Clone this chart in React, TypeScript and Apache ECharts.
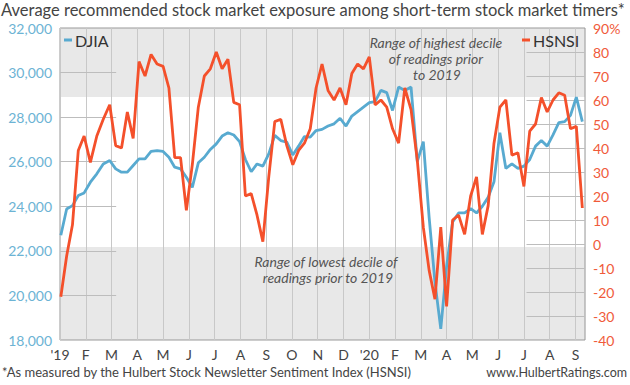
import React, { useEffect, useRef } from 'react';
import * as echarts from 'echarts';

// ---------- data ----------
const START_DATE = '2019-01-02'; // first weekly reading
const MONTH_LABELS = ["'19", 'F', 'M', 'A', 'M', 'J', 'J', 'A', 'S', 'O', 'N', 'D', "'20", 'F', 'M', 'A', 'M', 'J', 'J', 'A', 'S'];

const DJIA = [
  22700, 23880, 24030, 24480, 24600, 25080, 25455, 25900, 26055, 25680,
  25530, 25530, 25830, 26130, 26130, 26460, 26500, 26460, 26200, 25755,
  25680, 25300, 24850, 25950, 26200, 26550, 26800, 27150, 27300, 27200,
  26900, 26100, 25550, 25900, 25800, 26350, 27180, 26950, 26880, 26300,
  26700, 27130, 27100, 27400, 27450, 27600, 27700, 27950, 27600, 28050,
  28250, 28450, 28650, 28700, 29200, 29100, 28300, 29350, 29200, 29350,
  26000, 26900, 23500, 20600, 18500, 21300, 23300, 23700, 23700, 23900,
  23700, 24000, 24400, 25100, 27300, 25700, 25900, 25700, 25800, 26100,
  26700, 26950, 26700, 27200, 27750, 27800, 28080, 28900, 27800,
];

const HSNSI = [
  -22, -5, 8, 39, 45, 34, 45, 52, 58, 41,
  40, 55, 44, 76, 70, 79, 75, 74, 65, 36,
  36, 14, 33, 57, 70, 73, 80, 73, 77, 59,
  58, 20, 21, 12, 1, 28, 51, 52, 41, 33,
  39, 42, 48, 65, 75, 64, 60, 65, 58, 71,
  75, 73, 78, 58, 60, 57, 48, 42, 65, 56,
  35, 7, -11, -23, 7, -26, 10, 12, 4, 20,
  28, 4, 16, 42, 57, 60, 37, 38, 24, 47,
  50, 61, 55, 60, 63, 62, 48, 49, 15,
];

const LEFT_TICKS = [20000, 22000, 24000, 26000, 28000, 30000];
const RIGHT_TICKS = [-30, -20, -10, 0, 10, 20, 30, 40, 50, 60, 70, 80];
const HIGH_DECILE = [61.3, 90];
const LOW_DECILE = [-40, -1.3];

const TITLE = 'Average recommended stock market exposure among short-term stock market timers*';
const FOOTNOTE = '*As measured by the Hulbert Stock Newsletter Sentiment Index (HSNSI)';
const SOURCE = 'www.HulbertRatings.com';

// ---------- helpers ----------
function monthPos(d: Date): number {
  const y = d.getUTCFullYear();
  const m = d.getUTCMonth();
  const day = d.getUTCDate();
  const dim = new Date(Date.UTC(y, m + 1, 0)).getUTCDate();
  return (y - 2019) * 12 + m + (day - 1) / dim;
}

const start = new Date(START_DATE + 'T00:00:00Z').getTime();
const WEEK_X = DJIA.map((_, i) => monthPos(new Date(start + i * 7 * 86400000)));

const FONT = 'Lato';

export default function App() {
  const ref = useRef<HTMLDivElement>(null);
  useEffect(() => {
    if (!ref.current) return;
    const chart = echarts.init(ref.current, undefined, { renderer: 'svg' });
    const X_MAX = 20.37;
    const option: any = {
      animation: false,
      backgroundColor: '#fff',
      textStyle: { fontFamily: FONT },
      title: {
        text: TITLE,
        left: 1,
        top: 1,
        padding: 0,
        textStyle: { fontFamily: FONT, fontSize: 16.5, fontWeight: 'normal', color: '#444' },
      },
      grid: {
        left: 60, right: 45, top: 28, bottom: 45,
        show: true, borderColor: '#999', borderWidth: 1, backgroundColor: 'transparent',
      },
      legend: [
        {
          data: ['DJIA'], left: 64, top: 32, padding: 0,
          icon: 'rect', itemWidth: 8, itemHeight: 3, itemGap: 4,
          textStyle: { fontFamily: FONT, fontSize: 16, color: '#333', padding: [0, 0, 0, -2] },
        },
        {
          data: ['HSNSI'], left: 522, top: 32, padding: 0,
          icon: 'rect', itemWidth: 8, itemHeight: 3, itemGap: 4,
          textStyle: { fontFamily: FONT, fontSize: 16, color: '#333', padding: [0, 0, 0, -2] },
        },
      ],
      xAxis: {
        type: 'value', min: 0, max: X_MAX, interval: 1,
        axisLine: { show: false }, axisTick: { show: false },
        splitLine: { show: true, lineStyle: { color: '#c8c8c8', width: 1 } },
        axisLabel: {
          fontFamily: FONT, fontSize: 14, color: '#444', margin: 7,
          formatter: (v: number) => {
            const r = Math.round(v);
            return Math.abs(v - r) < 1e-6 && MONTH_LABELS[r] !== undefined ? MONTH_LABELS[r] : '';
          },
        },
      },
      yAxis: [
        {
          type: 'value', position: 'left', min: 18000, max: 32000, interval: 2000,
          axisLine: { show: false }, axisTick: { show: false }, splitLine: { show: false },
          axisLabel: {
            fontFamily: FONT, fontSize: 14, color: '#6cb3d4', margin: 8,
            formatter: (v: number) => v.toLocaleString('en-US'),
          },
        },
        {
          type: 'value', position: 'right', min: -40, max: 90, interval: 10,
          axisLine: { show: false }, axisTick: { show: false }, splitLine: { show: false },
          axisLabel: {
            fontFamily: FONT, fontSize: 14, color: '#f05a3a', margin: 8, align: 'left',
            formatter: (v: number) => (v === 90 ? '90%' : String(v)),
          },
        },
      ],
      series: [
        {
          name: 'DJIA', type: 'line', yAxisIndex: 0, z: 3,
          data: DJIA.map((v, i) => [WEEK_X[i], v]),
          symbol: 'none', showSymbol: false,
          lineStyle: { color: '#58aad0', width: 2.8 },
          itemStyle: { color: '#58aad0' },
          markLine: {
            silent: true, symbol: 'none', z: 1, animation: false,
            label: { show: false },
            lineStyle: { color: '#bdbdbd', width: 1, type: 'solid' },
            emphasis: { disabled: true },
            data: LEFT_TICKS.map((v) => [{ coord: [0, v] }, { coord: [2.18, v] }]),
          },
        },
        {
          name: 'HSNSI', type: 'line', yAxisIndex: 1, z: 4,
          data: HSNSI.map((v, i) => [WEEK_X[i], v]),
          symbol: 'none', showSymbol: false,
          lineStyle: { color: '#f4502b', width: 2.8 },
          itemStyle: { color: '#f4502b' },
          markArea: {
            silent: true, z: -1,
            itemStyle: { color: '#e8e8e8' },
            emphasis: { disabled: true },
            data: [
              [{ yAxis: HIGH_DECILE[0] }, { yAxis: HIGH_DECILE[1] }],
              [{ yAxis: LOW_DECILE[0] }, { yAxis: LOW_DECILE[1] }],
            ],
          },
          markLine: {
            silent: true, symbol: 'none', z: 1, animation: false,
            label: { show: false },
            lineStyle: { color: '#bdbdbd', width: 1, type: 'solid' },
            emphasis: { disabled: true },
            data: RIGHT_TICKS.map((v) => [{ coord: [18.1, v] }, { coord: [X_MAX, v] }]),
          },
        },
      ],
      graphic: [
        {
          type: 'text', x: 436, y: 42, silent: true, z: 10,
          style: { text: 'Range of highest decile', textAlign: 'center', textVerticalAlign: 'middle', font: 'italic 14px Lato', fill: '#555' },
        },
        {
          type: 'text', x: 436, y: 58, silent: true, z: 10,
          style: { text: 'of readings prior', textAlign: 'center', textVerticalAlign: 'middle', font: 'italic 14px Lato', fill: '#555' },
        },
        {
          type: 'text', x: 437, y: 74, silent: true, z: 10,
          style: { text: 'to 2019', textAlign: 'center', textVerticalAlign: 'middle', font: 'italic 14px Lato', fill: '#555' },
        },
        {
          type: 'text', x: 326, y: 261, silent: true, z: 10,
          style: { text: 'Range of lowest decile of', textAlign: 'center', textVerticalAlign: 'middle', font: 'italic 14px Lato', fill: '#555' },
        },
        {
          type: 'text', x: 328, y: 277, silent: true, z: 10,
          style: { text: 'readings prior to 2019', textAlign: 'center', textVerticalAlign: 'middle', font: 'italic 14px Lato', fill: '#555' },
        },
        {
          type: 'text', x: 2, y: 372, silent: true,
          style: { text: FOOTNOTE, textAlign: 'left', textVerticalAlign: 'middle', font: '13px Lato', fill: '#444' },
        },
        {
          type: 'text', x: 627, y: 372, silent: true,
          style: { text: SOURCE, textAlign: 'right', textVerticalAlign: 'middle', font: '12.5px Lato', fill: '#444' },
        },
      ],
    };
    chart.setOption(option);
    return () => chart.dispose();
  }, []);
  return <div ref={ref} style={{ position: 'fixed', left: 0, top: 0, width: 630, height: 385, background: '#fff' }} />;
}
